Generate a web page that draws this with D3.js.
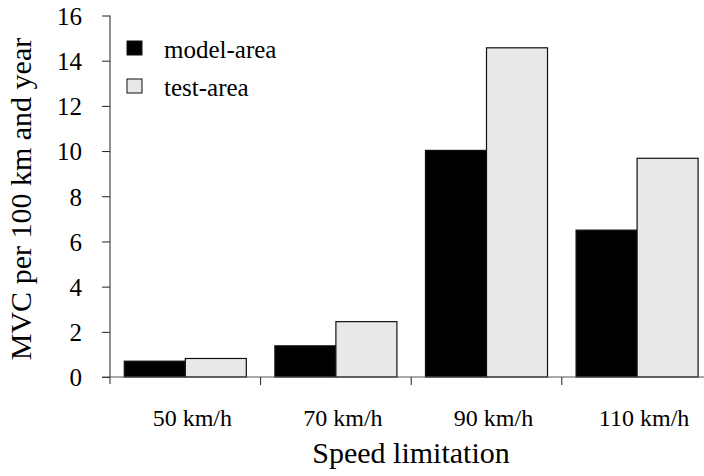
<!DOCTYPE html>
<html><head><meta charset="utf-8">
<script src="https://cdn.jsdelivr.net/npm/d3@7"></script>
<style>body{margin:0;background:#fff}svg{display:block}svg text{font-family:"Liberation Serif",serif !important;fill:#000}</style>
</head><body>
<svg id="c" width="704" height="476"></svg>
<script>
const categories = ["50 km/h", "70 km/h", "90 km/h", "110 km/h"];
const seriesNames = ["model-area", "test-area"];
const modelArea = [0.7, 1.38, 10.03, 6.5];
const testArea = [0.82, 2.45, 14.57, 9.68];
const yTicks = [0, 2, 4, 6, 8, 10, 12, 14, 16];
const yLabel = "MVC per 100 km and year";
const xLabel = "Speed limitation";

(function () {
const fills = {"model-area": "#000000", "test-area": "#e8e8e8"};

const svg = d3.select("#c");
const mLeft = 110, mBottom = 377, mTop = 15.5;
const x0 = d3.scaleBand().domain(categories).range([mLeft, mLeft + 4 * 150.6]).padding(0);
const x1 = d3.scaleBand().domain(seriesNames).range([0, x0.bandwidth()]).paddingInner(0).paddingOuter(0.234);
const y = d3.scaleLinear().domain([0, 16]).range([mBottom, mTop]);

const data = categories.map((c, i) => ({cat: c, vals: [
  {s: "model-area", v: modelArea[i]}, {s: "test-area", v: testArea[i]}]}));

// bars
const g = svg.append("g");
g.selectAll("g.grp").data(data).join("g")
  .attr("transform", d => `translate(${x0(d.cat)},0)`)
  .selectAll("rect").data(d => d.vals).join("rect")
  .attr("x", d => x1(d.s))
  .attr("width", x1.bandwidth())
  .attr("y", d => y(d.v))
  .attr("height", d => y(0) - y(d.v))
  .attr("fill", d => fills[d.s])
  .attr("stroke", "#111")
  .attr("stroke-width", 1.2);

// y axis
const yAxis = d3.axisLeft(y).tickValues(yTicks).tickSize(8).tickPadding(20).tickFormat(d3.format("d"));
const ya = svg.append("g").attr("transform", `translate(${mLeft},0)`).call(yAxis);
ya.attr("font-family", null).attr("font-size", null);
ya.select(".domain").attr("stroke", "#222").attr("d", `M0,${mTop}V${mBottom + 7}`);
ya.selectAll(".tick line").attr("stroke", "#222");
ya.selectAll("text").style("font-size", "25px").attr("dy", "0.35em");

// x axis
const xa = svg.append("g").attr("transform", `translate(0,${mBottom})`);
xa.append("line").attr("x1", mLeft - 8).attr("x2", 704).attr("y1", 0).attr("y2", 0).attr("stroke", "#555").attr("stroke-width", 1.2);
const bounds = categories.slice(1).map(c => x0(c));
xa.selectAll("line.tk").data(bounds).join("line").attr("class", "tk")
  .attr("x1", d => d).attr("x2", d => d).attr("y1", 0).attr("y2", 8).attr("stroke", "#222");
xa.selectAll("text").data(categories).join("text")
  .attr("x", d => x0(d) + x0.bandwidth() / 2 + 7).attr("y", 49)
  .attr("text-anchor", "middle").attr("font-size", 24).text(d => d);

// axis labels
svg.append("text").attr("transform", `translate(31,199) rotate(-90)`)
  .attr("text-anchor", "middle").attr("font-size", 30).text(yLabel);
svg.append("text").attr("x", 411).attr("y", 463)
  .attr("text-anchor", "middle").attr("font-size", 30).text(xLabel);

// legend
const lg = svg.append("g");
seriesNames.forEach((s, i) => {
  const yy = 41 + i * 38;
  lg.append("rect").attr("x", 127).attr("y", yy).attr("width", 15).attr("height", 14)
    .attr("fill", fills[s]).attr("stroke", "#111").attr("stroke-width", 1);
  lg.append("text").attr("x", 164).attr("y", yy + 17).attr("font-size", 25).text(s);
});
})();
</script>
</body></html>
